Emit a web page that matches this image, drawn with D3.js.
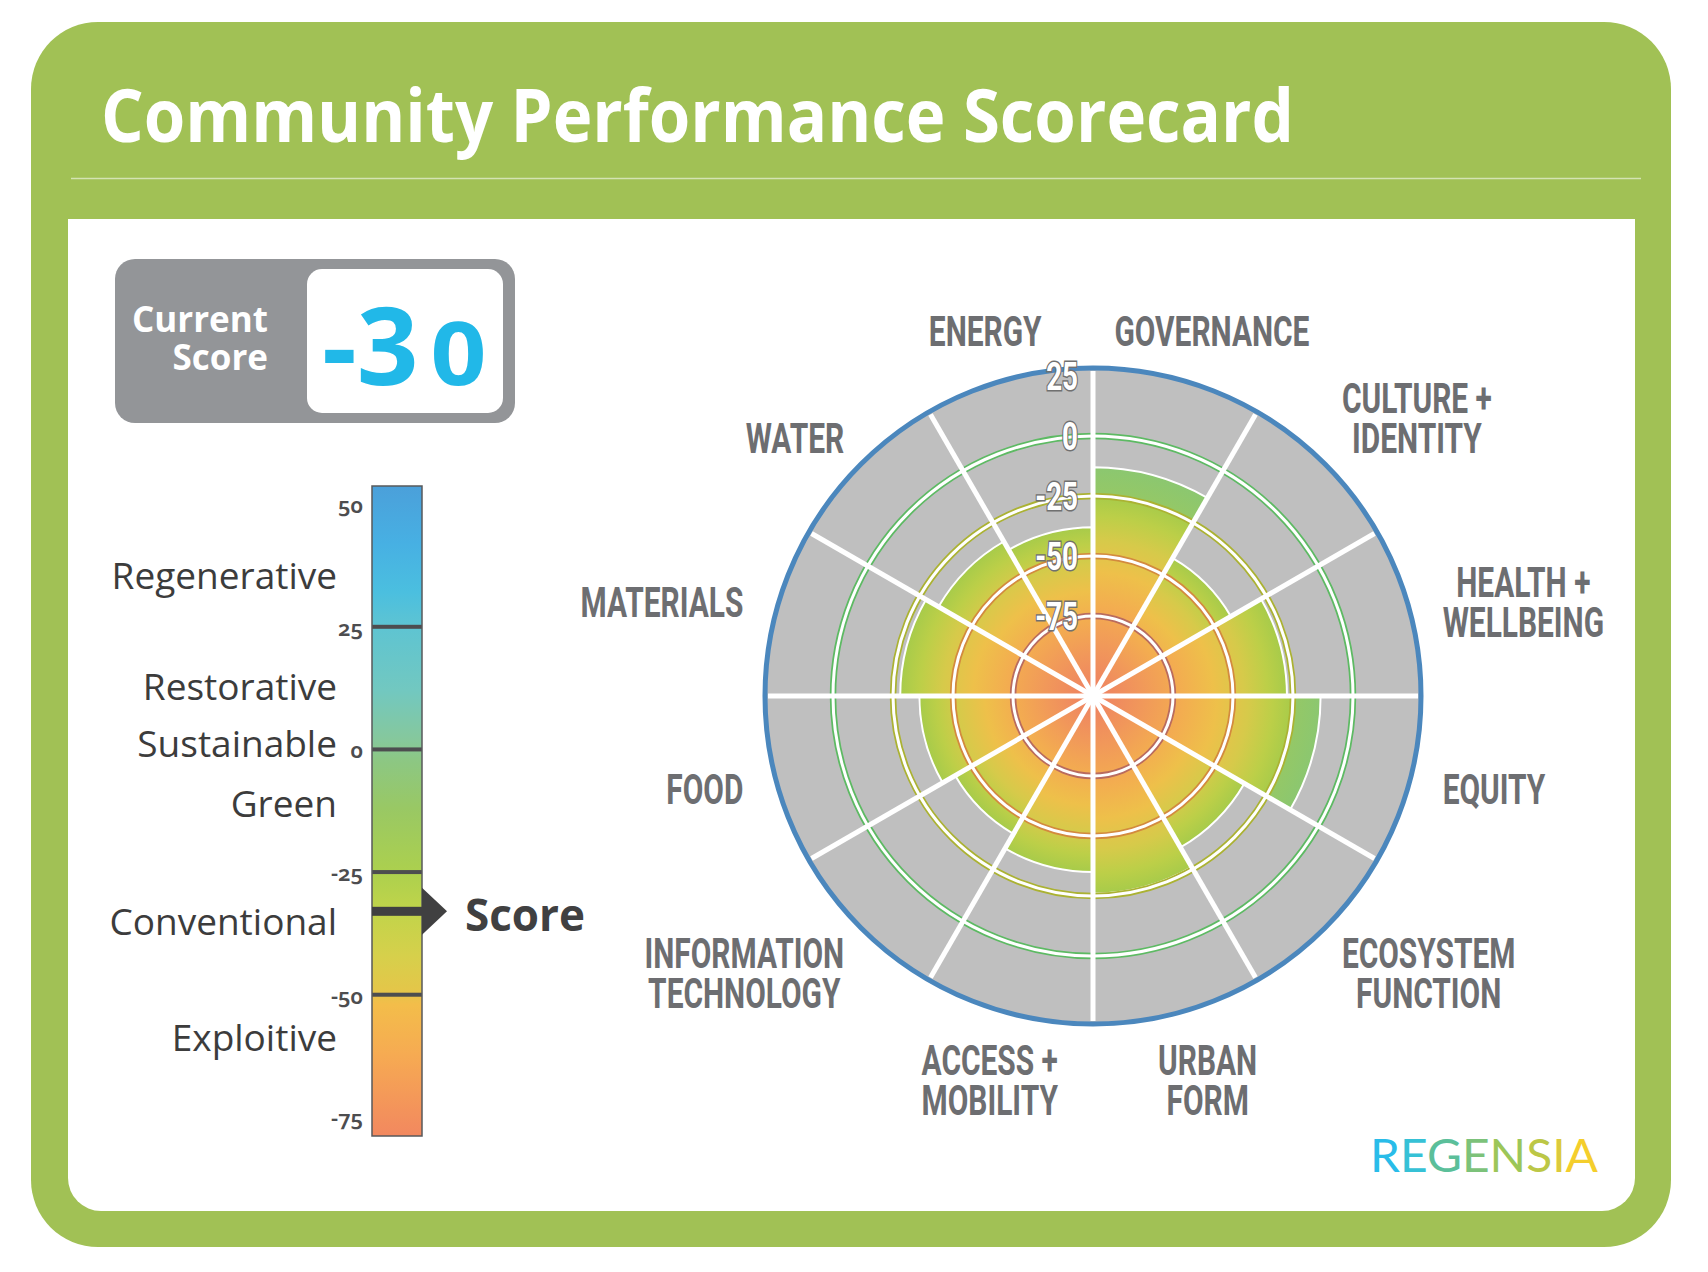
<!DOCTYPE html>
<html>
<head>
<meta charset="utf-8">
<script src="https://cdn.jsdelivr.net/npm/d3@7"></script>
<style>
  html, body { margin: 0; padding: 0; background: #fff; }
  svg { display: block; }
</style>
</head>
<body>
<svg id="chart" width="1708" height="1272"></svg>
<script>
var categories = [
  ["GOVERNANCE"], ["CULTURE +", "IDENTITY"], ["HEALTH +", "WELLBEING"], ["EQUITY"],
  ["ECOSYSTEM", "FUNCTION"], ["URBAN", "FORM"], ["ACCESS +", "MOBILITY"],
  ["INFORMATION", "TECHNOLOGY"], ["FOOD"], ["MATERIALS"], ["WATER"], ["ENERGY"]
];
var scores = [-13, -42, -27.5, -13.5, -35.5, -26, -35, -42, -36, -28, -34, -38];
var ringTicks = [25, 0, -25, -50, -75];
var currentScore = -30;
var pointerValue = -33;
var bandNames = ["Regenerative", "Restorative", "Sustainable", "Green", "Conventional", "Exploitive"];
var bandLabelValues = [35, 12.3, 0.6, -11.6, -35.5, -59.3];
var barTicks = [50, 25, 0, -25, -50, -75];
var barLines = [25, 0, -25, -50];
var barDomain = [53.7, -78.8];
var logoLetters = "REGENSIA".split("");

// ---- colours ----
var frameGreen = "#a1c155";
var ringColors = { "0": "#5dba63", "-25": "#abb232", "-50": "#d38a3e", "-75": "#b96b5e" };
var barStops = [
  [53.7, "#4ba0da"], [42, "#47b0e3"], [32, "#4bbfdf"], [25, "#5ec4d2"], [12, "#72c8c0"],
  [2, "#86c89c"], [-2, "#8cc784"], [-12, "#99c864"], [-25, "#acd04e"], [-33, "#c1d44a"],
  [-42, "#d6d04b"], [-49, "#e4c649"], [-52, "#f3bd4a"], [-62, "#f6ab52"], [-78.8, "#f2885f"]
];
var fillStops = [[0, "#ee7f63"], [0.25, "#f1985a"], [0.45, "#f3ad50"], [0.62, "#eec04a"],
  [0.78, "#d6ca4a"], [0.9, "#bccf48"], [1, "#a7cb4a"]];
var logoColors = ["#29bce9", "#36c1d6", "#5bbf9a", "#7cc27a", "#9cc658", "#bcc746", "#dcca3c", "#f4ce2c"];

var svg = d3.select("#chart");
var defs = svg.append("defs");
var sans = '"Open Sans", "Noto Sans", sans-serif';
var narrow = 'Roboto, "Liberation Sans", sans-serif';

// frame
svg.append("rect").attr("x", 31).attr("y", 22).attr("width", 1640).attr("height", 1225)
  .attr("rx", 67).attr("fill", frameGreen);
svg.append("path").attr("d", "M68,219H1635V1178A33,33 0 0 1 1602,1211H101A33,33 0 0 1 68,1178Z")
  .attr("fill", "#fff");
svg.append("line").attr("x1", 71).attr("x2", 1641).attr("y1", 178.5).attr("y2", 178.5)
  .attr("stroke", "rgba(255,255,255,0.55)").attr("stroke-width", 1.5);
svg.append("text").attr("x", 101).attr("y", 142)
  .attr("font-family", sans).attr("font-weight", 700).attr("font-size", 74)
  .attr("fill", "#fff").attr("textLength", 1193).attr("lengthAdjust", "spacingAndGlyphs")
  .text("Community Performance Scorecard");

// ---- current score box ----
svg.append("rect").attr("x", 115).attr("y", 259).attr("width", 400).attr("height", 164)
  .attr("rx", 20).attr("fill", "#939598");
svg.append("rect").attr("x", 307).attr("y", 269).attr("width", 196).attr("height", 144)
  .attr("rx", 15).attr("fill", "#fff");
svg.selectAll(".curlab").data(["Current", "Score"]).enter().append("text")
  .attr("x", 268).attr("y", function (d, i) { return 332 + i * 38; })
  .attr("text-anchor", "end").attr("font-family", sans).attr("font-weight", 700)
  .attr("font-size", 35).attr("fill", "#fff").text(function (d) { return d; });
var scoreStr = String(currentScore);
var big = svg.append("text").attr("x", 322).attr("y", 385)
  .attr("font-family", sans).attr("font-weight", 700).attr("fill", "#21b8e8");
big.append("tspan").attr("font-size", 108).text(scoreStr.slice(0, -1));
big.append("tspan").attr("font-size", 88).attr("dx", 12)
  .attr("textLength", 56).attr("lengthAdjust", "spacingAndGlyphs")
  .text(scoreStr.slice(-1));

// ---- colour bar ----
var y = d3.scaleLinear().domain(barDomain).range([486, 1136]);
var barX = 372, barW = 50;
var lg = defs.append("linearGradient").attr("id", "barGrad")
  .attr("gradientUnits", "userSpaceOnUse").attr("x1", 0).attr("x2", 0)
  .attr("y1", y(barDomain[0])).attr("y2", y(barDomain[1]));
var off = d3.scaleLinear().domain(barDomain).range([0, 1]);
lg.selectAll("stop").data(barStops).enter().append("stop")
  .attr("offset", function (d) { return off(d[0]); })
  .attr("stop-color", function (d) { return d[1]; });

svg.append("rect").attr("x", barX).attr("y", y(barDomain[0])).attr("width", barW)
  .attr("height", y(barDomain[1]) - y(barDomain[0])).attr("fill", "url(#barGrad)");
svg.selectAll(".bline").data(barLines).enter().append("rect")
  .attr("x", barX).attr("width", barW).attr("y", function (d) { return y(d) - 2; })
  .attr("height", 4).attr("fill", "#4d4d4f");
svg.append("rect").attr("x", barX).attr("y", y(barDomain[0])).attr("width", barW)
  .attr("height", y(barDomain[1]) - y(barDomain[0])).attr("fill", "none")
  .attr("stroke", "#58595b").attr("stroke-width", 1.5);

svg.selectAll(".btick").data(barTicks).enter().append("text")
  .attr("x", 363).attr("y", function (d) { return y(d) + 9; })
  .attr("text-anchor", "end").attr("font-family", '"Noto Sans", sans-serif')
  .attr("font-weight", 600).attr("font-size", 22).attr("fill", "#4d4d4f")
  .style("font-variant-numeric", "oldstyle-nums")
  .text(function (d) { return d; });

svg.selectAll(".band").data(bandNames).enter().append("text")
  .attr("x", 337).attr("y", function (d, i) { return y(bandLabelValues[i]) + 11; })
  .attr("text-anchor", "end").attr("font-family", sans).attr("font-size", 37)
  .attr("fill", "#3c3c3c").text(function (d) { return d; });

// pointer arrow
var py0 = y(pointerValue);
svg.append("rect").attr("x", barX).attr("y", py0 - 4.5).attr("width", barW).attr("height", 9)
  .attr("fill", "#404041");
svg.append("path")
  .attr("d", "M" + (barX + barW) + "," + (py0 - 23.5) + "L" + (barX + barW + 25) + "," + py0 +
    "L" + (barX + barW) + "," + (py0 + 23.5) + "Z")
  .attr("fill", "#404041");
svg.append("text").attr("x", 465).attr("y", py0 + 20)
  .attr("font-family", sans).attr("font-weight", 700).attr("font-size", 44)
  .attr("fill", "#404041").text("Score");

// ---- radar ----
var cx = 1093, cy = 696;
var r = d3.scaleLinear().domain([-100, 25]).range([20, 320]);
var step = 2 * Math.PI / categories.length;
var radar = svg.append("g").attr("transform", "translate(" + cx + "," + cy + ")");

radar.append("circle").attr("r", 327).attr("fill", "#bfbfbf");

var segs = scores.map(function (v, i) { return { v: v, i: i }; });
segs.forEach(function (d) {
  var rs = r(d.v);
  var f = Math.min(1, r(-25) / rs);
  var rg = defs.append("radialGradient").attr("id", "seg" + d.i)
    .attr("gradientUnits", "userSpaceOnUse").attr("cx", 0).attr("cy", 0).attr("r", rs);
  fillStops.forEach(function (s) {
    rg.append("stop").attr("offset", s[0] * f).attr("stop-color", s[1]);
  });
  if (f < 1) {
    rg.append("stop").attr("offset", f + 0.005).attr("stop-color", "#95c866");
    rg.append("stop").attr("offset", 1).attr("stop-color", "#8bc770");
  }
});

var arc = d3.arc().innerRadius(0)
  .outerRadius(function (d) { return r(d.v); })
  .startAngle(function (d) { return d.i * step; })
  .endAngle(function (d) { return (d.i + 1) * step; });

radar.selectAll(".seg").data(segs).enter().append("path")
  .attr("d", arc)
  .attr("fill", function (d) { return "url(#seg" + d.i + ")"; })
  .attr("stroke", "#fff").attr("stroke-width", 2);

// rings
var inner = ringTicks.filter(function (t) { return ringColors[t] !== undefined; });
radar.selectAll(".ringc").data(inner).enter().append("circle")
  .attr("r", function (d) { return r(d); }).attr("fill", "none")
  .attr("stroke", function (d) { return ringColors[d]; }).attr("stroke-width", 6.5);
radar.selectAll(".ringw").data(inner).enter().append("circle")
  .attr("r", function (d) { return r(d); }).attr("fill", "none")
  .attr("stroke", "#fff").attr("stroke-width", 3);

// spokes
radar.selectAll(".spoke").data(d3.range(categories.length)).enter().append("line")
  .attr("x1", 0).attr("y1", 0)
  .attr("x2", function (i) { return 325 * Math.sin(i * step); })
  .attr("y2", function (i) { return -325 * Math.cos(i * step); })
  .attr("stroke", "#fff").attr("stroke-width", 5);

radar.append("circle").attr("r", 328).attr("fill", "none")
  .attr("stroke", "#4b87bd").attr("stroke-width", 5);

// squeeze factor for the condensed label face
var probe = radar.append("text").attr("font-family", narrow).attr("font-weight", 700)
  .attr("font-size", 42).text("GOVERNANCE");
var squeeze = 195 / probe.node().getComputedTextLength();
probe.remove();

function fitText(sel) {
  sel.each(function () {
    var w = this.getComputedTextLength();
    d3.select(this).attr("textLength", w * squeeze).attr("lengthAdjust", "spacingAndGlyphs");
  });
}

// ring value labels
radar.selectAll(".rlab").data(ringTicks).enter().append("text")
  .attr("x", -15).attr("y", function (d) { return -r(d) + 14; })
  .attr("text-anchor", "end").attr("font-family", narrow).attr("font-weight", 700)
  .attr("font-size", 39).attr("fill", "#fff")
  .attr("stroke", "#707070").attr("stroke-width", 3).style("paint-order", "stroke")
  .text(function (d) { return d; })
  .call(fitText);

// category labels
categories.forEach(function (lines, i) {
  var a = (i + 0.5) * step;
  var sn = Math.sin(a), cs = Math.cos(a);
  var g = radar.append("g");
  lines.forEach(function (t, j) {
    g.append("text").attr("x", 0).attr("y", j * 40).attr("text-anchor", "middle")
      .attr("font-family", narrow).attr("font-weight", 700).attr("font-size", 42)
      .attr("fill", "#6d6e71").text(t).call(fitText);
  });
  var b = g.node().getBBox();
  var left, top;
  if (Math.abs(sn) > 0.9) {            // left / right of the wheel
    var sx = 362 * sn, sy = -362 * cs;
    left = sn > 0 ? sx : sx - b.width;
    top = sy - b.height / 2;
  } else if (Math.abs(cs) > 0.9) {     // above / below the wheel
    var tx = 352 * sn * (cs > 0 ? 0.4 : 0.55) + (cs > 0 ? -15 : 15);
    var ty = -352 * cs;
    left = sn > 0 ? tx : tx - b.width;
    top = cs > 0 ? ty - b.height : ty;
  } else {                             // diagonals
    var dx = 352 * sn, dy = -352 * cs + (cs > 0 ? 16 : -16);
    left = sn > 0 ? dx : dx - b.width;
    top = cs > 0 ? dy - b.height : dy;
  }
  g.attr("transform", "translate(" + (left - b.x) + "," + (top - b.y) + ")");
});

// ---- logo ----
var logo = svg.append("text").attr("x", 1370).attr("y", 1172)
  .attr("font-family", 'Lato, "Open Sans", sans-serif').attr("font-weight", 400)
  .attr("font-size", 46).attr("textLength", 228).attr("lengthAdjust", "spacingAndGlyphs");
logo.selectAll("tspan").data(logoLetters).enter().append("tspan")
  .attr("fill", function (d, i) { return logoColors[i]; })
  .text(function (d) { return d; });
</script>
</body>
</html>
